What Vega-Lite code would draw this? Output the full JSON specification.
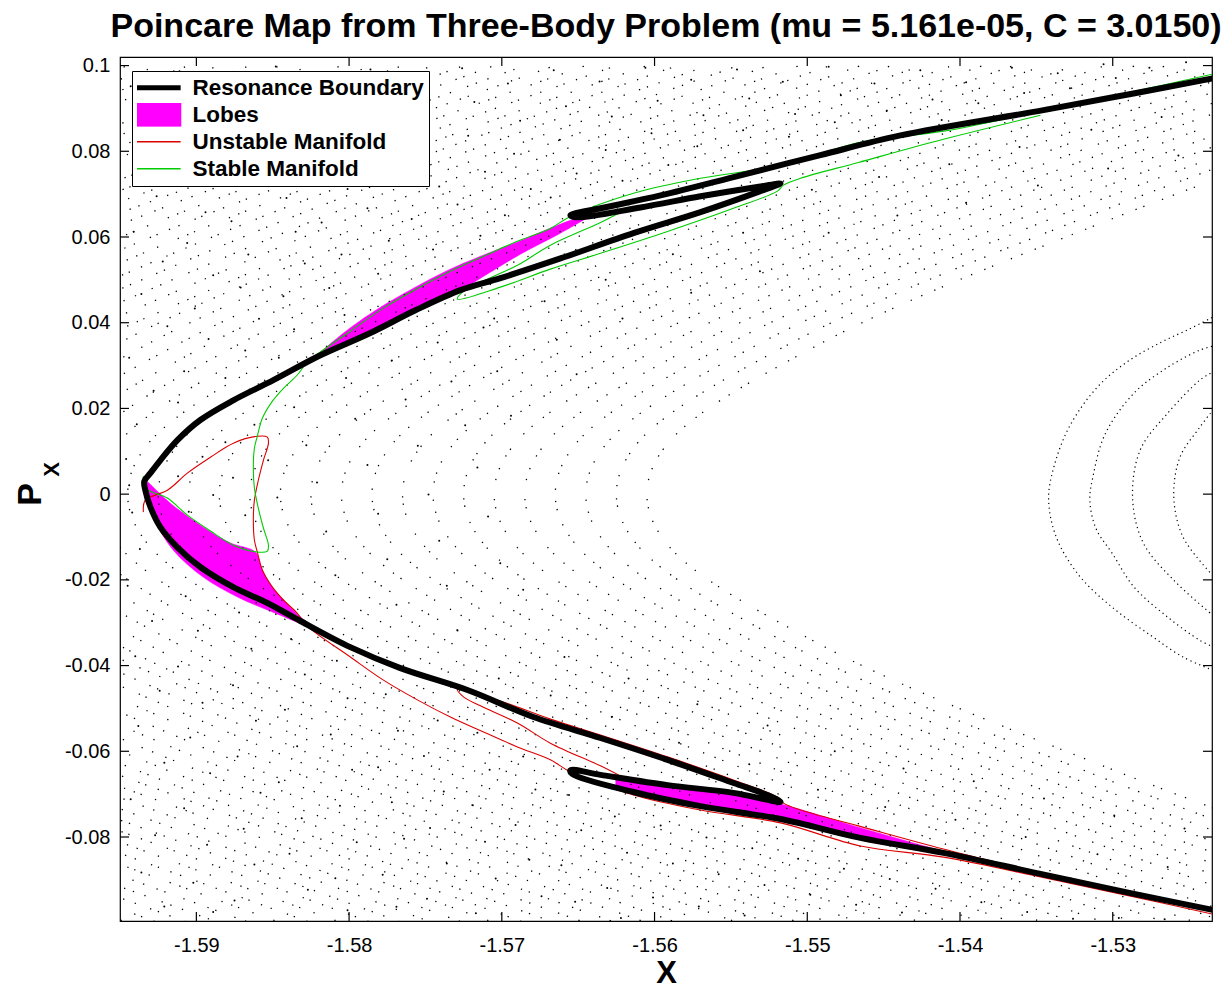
{
"$schema": "https://vega.github.io/schema/vega-lite/v6.json",
"width": 1092, "height": 864,
"autosize": "none",
"padding": {"left": 120, "top": 57, "right": 10, "bottom": 69},
"background": "white",
"title": {"text": "Poincare Map from Three-Body Problem (mu = 5.161e-05, C = 3.0150)", "font": "Liberation Sans", "fontSize": 34, "fontWeight": "bold", "color": "black", "anchor": "middle", "offset": 12},
"config": {"view": {"stroke": "black", "strokeWidth": 1.2},
  "axis": {"domain": false, "grid": false, "ticks": false, "labelFont": "Liberation Sans", "labelFontSize": 20, "labelColor": "black", "titleFont": "Liberation Sans", "titleColor": "black", "titleFontWeight": "bold"}},
"datasets": {
"xticks": [{"v":-1.59},{"v":-1.58},{"v":-1.57},{"v":-1.56},{"v":-1.55},{"v":-1.54},{"v":-1.53}],
"yticks": [{"v":-0.08},{"v":-0.06},{"v":-0.04},{"v":-0.02},{"v":0},{"v":0.02},{"v":0.04},{"v":0.06},{"v":0.08},{"v":0.1}],
"boundary": [
{"x":-1.52346,"y":0.0970},{"x":-1.52864,"y":0.0935},{"x":-1.53453,"y":0.0896},{"x":-1.54390,"y":0.0837},{"x":-1.54914,"y":0.0791},{"x":-1.55437,"y":0.0744},{"x":-1.55961,"y":0.0697},{"x":-1.56354,"y":0.0667},{"x":-1.56551,"y":0.0651},{"x":-1.56518,"y":0.0646},{"x":-1.56092,"y":0.0669},{"x":-1.55699,"y":0.0695},{"x":-1.55307,"y":0.0718},{"x":-1.55175,"y":0.0725},{"x":-1.55307,"y":0.0707},{"x":-1.55699,"y":0.0658},{"x":-1.56138,"y":0.0609},{"x":-1.56616,"y":0.0550},{"x":-1.57009,"y":0.0504},{"x":-1.57271,"y":0.0476},{"x":-1.57566,"y":0.0429},{"x":-1.57861,"y":0.0376},{"x":-1.58188,"y":0.0324},{"x":-1.58496,"y":0.0266},{"x":-1.58758,"y":0.0219},{"x":-1.58974,"y":0.0173},{"x":-1.59124,"y":0.0126},{"x":-1.59236,"y":0.0079},{"x":-1.59301,"y":0.0049},{"x":-1.59341,"y":0.0030},{"x":-1.59334,"y":0.0009},{"x":-1.59301,"y":-0.0030},{"x":-1.59236,"y":-0.0077},{"x":-1.59124,"y":-0.0124},{"x":-1.58974,"y":-0.0170},{"x":-1.58758,"y":-0.0217},{"x":-1.58535,"y":-0.0254},{"x":-1.58319,"y":-0.0296},{"x":-1.57992,"y":-0.0357},{"x":-1.57664,"y":-0.0406},{"x":-1.57225,"y":-0.0457},{"x":-1.56793,"y":-0.0520},{"x":-1.56354,"y":-0.0569},{"x":-1.55915,"y":-0.0620},{"x":-1.55483,"y":-0.0674},{"x":-1.55261,"y":-0.0702},{"x":-1.55175,"y":-0.0718},{"x":-1.55483,"y":-0.0697},{"x":-1.55915,"y":-0.0679},{"x":-1.56354,"y":-0.0655},{"x":-1.56551,"y":-0.0644},{"x":-1.56538,"y":-0.0653},{"x":-1.56138,"y":-0.0695},{"x":-1.55699,"y":-0.0728},{"x":-1.55175,"y":-0.0758},{"x":-1.54652,"y":-0.0802},{"x":-1.54108,"y":-0.0837},{"x":-1.53473,"y":-0.0886},{"x":-1.52883,"y":-0.0931},{"x":-1.52346,"y":-0.0970}
],
"lobes": [
{"lobe":"A","x":-1.58188,"y":0.0331},{"lobe":"A","x":-1.58011,"y":0.0383},{"lobe":"A","x":-1.57795,"y":0.0436},{"lobe":"A","x":-1.57566,"y":0.0483},{"lobe":"A","x":-1.57356,"y":0.0522},{"lobe":"A","x":-1.57140,"y":0.0555},{"lobe":"A","x":-1.56924,"y":0.0585},{"lobe":"A","x":-1.56714,"y":0.0616},{"lobe":"A","x":-1.56551,"y":0.0639},{"lobe":"A","x":-1.56387,"y":0.0658},{"lobe":"A","x":-1.56616,"y":0.0609},{"lobe":"A","x":-1.56878,"y":0.0560},{"lobe":"A","x":-1.57075,"y":0.0518},{"lobe":"A","x":-1.57271,"y":0.0476},{"lobe":"A","x":-1.57468,"y":0.0445},{"lobe":"A","x":-1.57664,"y":0.0415},{"lobe":"A","x":-1.57861,"y":0.0373},{"lobe":"A","x":-1.58024,"y":0.0348},
{"lobe":"B","x":-1.59321,"y":0.0030},{"lobe":"B","x":-1.59170,"y":-0.0021},{"lobe":"B","x":-1.58954,"y":-0.0077},{"lobe":"B","x":-1.58777,"y":-0.0114},{"lobe":"B","x":-1.58614,"y":-0.0135},{"lobe":"B","x":-1.58568,"y":-0.0177},{"lobe":"B","x":-1.58502,"y":-0.0217},{"lobe":"B","x":-1.58430,"y":-0.0247},{"lobe":"B","x":-1.58339,"y":-0.0280},{"lobe":"B","x":-1.58253,"y":-0.0308},{"lobe":"B","x":-1.58515,"y":-0.0273},{"lobe":"B","x":-1.58731,"y":-0.0240},{"lobe":"B","x":-1.58954,"y":-0.0194},{"lobe":"B","x":-1.59151,"y":-0.0131},{"lobe":"B","x":-1.59282,"y":-0.0054},{"lobe":"B","x":-1.59334,"y":0.0009},
{"lobe":"C","x":-1.56256,"y":-0.0665},{"lobe":"C","x":-1.55915,"y":-0.0681},{"lobe":"C","x":-1.55483,"y":-0.0700},{"lobe":"C","x":-1.55175,"y":-0.0723},{"lobe":"C","x":-1.54665,"y":-0.0777},{"lobe":"C","x":-1.54108,"y":-0.0833},{"lobe":"C","x":-1.53473,"y":-0.0889},{"lobe":"C","x":-1.54108,"y":-0.0842},{"lobe":"C","x":-1.54652,"y":-0.0807},{"lobe":"C","x":-1.55175,"y":-0.0763},{"lobe":"C","x":-1.55699,"y":-0.0732},{"lobe":"C","x":-1.56138,"y":-0.0700},{"lobe":"C","x":-1.56256,"y":-0.0683}
],
"unstable": [
{"seg":"a","x":-1.59347,"y":-0.0042},{"seg":"a","x":-1.59334,"y":-0.0014},{"seg":"a","x":-1.59190,"y":0.0009},{"seg":"a","x":-1.59059,"y":0.0049},{"seg":"a","x":-1.58908,"y":0.0086},{"seg":"a","x":-1.58758,"y":0.0119},{"seg":"a","x":-1.58601,"y":0.0135},{"seg":"a","x":-1.58535,"y":0.0133},{"seg":"a","x":-1.58528,"y":0.0119},{"seg":"a","x":-1.58561,"y":0.0079},{"seg":"a","x":-1.58594,"y":0.0033},{"seg":"a","x":-1.58620,"y":-0.0014},{"seg":"a","x":-1.58627,"y":-0.0061},{"seg":"a","x":-1.58620,"y":-0.0107},{"seg":"a","x":-1.58601,"y":-0.0135},{"seg":"a","x":-1.58568,"y":-0.0177},{"seg":"a","x":-1.58502,"y":-0.0217},{"seg":"a","x":-1.58430,"y":-0.0247},{"seg":"a","x":-1.58339,"y":-0.0278},{"seg":"a","x":-1.58273,"y":-0.0308},{"seg":"a","x":-1.57992,"y":-0.0380},{"seg":"a","x":-1.57775,"y":-0.0434},{"seg":"a","x":-1.57553,"y":-0.0480},{"seg":"a","x":-1.57337,"y":-0.0520},{"seg":"a","x":-1.57120,"y":-0.0555},{"seg":"a","x":-1.56898,"y":-0.0590},{"seg":"a","x":-1.56682,"y":-0.0620},{"seg":"a","x":-1.56551,"y":-0.0648},{"seg":"a","x":-1.56138,"y":-0.0702},{"seg":"a","x":-1.55699,"y":-0.0737},{"seg":"a","x":-1.55175,"y":-0.0767},{"seg":"a","x":-1.54652,"y":-0.0821},{"seg":"a","x":-1.54108,"y":-0.0847},{"seg":"a","x":-1.53473,"y":-0.0893},{"seg":"a","x":-1.52883,"y":-0.0938},{"seg":"a","x":-1.52346,"y":-0.0980},
{"seg":"b","x":-1.56223,"y":-0.0658},{"seg":"b","x":-1.56354,"y":-0.0634},{"seg":"b","x":-1.56682,"y":-0.0581},{"seg":"b","x":-1.56898,"y":-0.0534},{"seg":"b","x":-1.57140,"y":-0.0494},{"seg":"b","x":-1.57251,"y":-0.0473},{"seg":"b","x":-1.57291,"y":-0.0455},{"seg":"b","x":-1.57009,"y":-0.0483},{"seg":"b","x":-1.56682,"y":-0.0525},{"seg":"b","x":-1.56354,"y":-0.0562},{"seg":"b","x":-1.55915,"y":-0.0613},{"seg":"b","x":-1.55483,"y":-0.0667},{"seg":"b","x":-1.55195,"y":-0.0707},{"seg":"b","x":-1.55156,"y":-0.0721},{"seg":"b","x":-1.55044,"y":-0.0737},{"seg":"b","x":-1.54665,"y":-0.0774},{"seg":"b","x":-1.54108,"y":-0.0828},{"seg":"b","x":-1.53473,"y":-0.0884}
],
"stable": [
{"seg":"a","x":-1.59347,"y":0.0042},{"seg":"a","x":-1.59334,"y":0.0014},{"seg":"a","x":-1.59190,"y":-0.0009},{"seg":"a","x":-1.59059,"y":-0.0049},{"seg":"a","x":-1.58908,"y":-0.0086},{"seg":"a","x":-1.58758,"y":-0.0119},{"seg":"a","x":-1.58601,"y":-0.0135},{"seg":"a","x":-1.58535,"y":-0.0133},{"seg":"a","x":-1.58528,"y":-0.0119},{"seg":"a","x":-1.58561,"y":-0.0079},{"seg":"a","x":-1.58594,"y":-0.0033},{"seg":"a","x":-1.58620,"y":0.0014},{"seg":"a","x":-1.58627,"y":0.0061},{"seg":"a","x":-1.58620,"y":0.0107},{"seg":"a","x":-1.58601,"y":0.0135},{"seg":"a","x":-1.58568,"y":0.0177},{"seg":"a","x":-1.58502,"y":0.0217},{"seg":"a","x":-1.58430,"y":0.0247},{"seg":"a","x":-1.58339,"y":0.0278},{"seg":"a","x":-1.58273,"y":0.0308},{"seg":"a","x":-1.57992,"y":0.0380},{"seg":"a","x":-1.57775,"y":0.0434},{"seg":"a","x":-1.57553,"y":0.0480},{"seg":"a","x":-1.57337,"y":0.0520},{"seg":"a","x":-1.57120,"y":0.0555},{"seg":"a","x":-1.56898,"y":0.0590},{"seg":"a","x":-1.56682,"y":0.0620},{"seg":"a","x":-1.56551,"y":0.0648},{"seg":"a","x":-1.56138,"y":0.0702},{"seg":"a","x":-1.55699,"y":0.0737},{"seg":"a","x":-1.55175,"y":0.0767},{"seg":"a","x":-1.54652,"y":0.0821},{"seg":"a","x":-1.54108,"y":0.0847},{"seg":"a","x":-1.53473,"y":0.0893},{"seg":"a","x":-1.52883,"y":0.0938},{"seg":"a","x":-1.52346,"y":0.0980},
{"seg":"b","x":-1.56223,"y":0.0658},{"seg":"b","x":-1.56354,"y":0.0634},{"seg":"b","x":-1.56682,"y":0.0581},{"seg":"b","x":-1.56898,"y":0.0534},{"seg":"b","x":-1.57140,"y":0.0494},{"seg":"b","x":-1.57251,"y":0.0473},{"seg":"b","x":-1.57291,"y":0.0455},{"seg":"b","x":-1.57009,"y":0.0483},{"seg":"b","x":-1.56682,"y":0.0525},{"seg":"b","x":-1.56354,"y":0.0562},{"seg":"b","x":-1.55915,"y":0.0613},{"seg":"b","x":-1.55483,"y":0.0667},{"seg":"b","x":-1.55195,"y":0.0707},{"seg":"b","x":-1.55156,"y":0.0721},{"seg":"b","x":-1.55044,"y":0.0737},{"seg":"b","x":-1.54665,"y":0.0774},{"seg":"b","x":-1.54108,"y":0.0828},{"seg":"b","x":-1.53473,"y":0.0884}
],
"tori": [
{"t":"1","x":-1.5235,"y":0.0412},{"t":"1","x":-1.5250,"y":0.0385},{"t":"1","x":-1.5268,"y":0.0355},{"t":"1","x":-1.5290,"y":0.0310},{"t":"1","x":-1.5310,"y":0.0250},{"t":"1","x":-1.5328,"y":0.0160},{"t":"1","x":-1.5338,"y":0.0070},{"t":"1","x":-1.5342,"y":-0.0010},{"t":"1","x":-1.5337,"y":-0.0100},{"t":"1","x":-1.5322,"y":-0.0190},{"t":"1","x":-1.5300,"y":-0.0265},{"t":"1","x":-1.5275,"y":-0.0330},{"t":"1","x":-1.5254,"y":-0.0380},{"t":"1","x":-1.5235,"y":-0.0410},
{"t":"2","x":-1.5235,"y":0.0345},{"t":"2","x":-1.5243,"y":0.0336},{"t":"2","x":-1.5264,"y":0.0296},{"t":"2","x":-1.5286,"y":0.0236},{"t":"2","x":-1.5305,"y":0.0140},{"t":"2","x":-1.5313,"y":0.0040},{"t":"2","x":-1.5315,"y":-0.0014},{"t":"2","x":-1.5311,"y":-0.0080},{"t":"2","x":-1.5300,"y":-0.0140},{"t":"2","x":-1.5286,"y":-0.0217},{"t":"2","x":-1.5264,"y":-0.0287},{"t":"2","x":-1.5243,"y":-0.0341},{"t":"2","x":-1.5235,"y":-0.0355},
{"t":"3","x":-1.5236,"y":0.0282},{"t":"3","x":-1.5243,"y":0.0266},{"t":"3","x":-1.5264,"y":0.0189},{"t":"3","x":-1.5282,"y":0.0103},{"t":"3","x":-1.5287,"y":-0.0009},{"t":"3","x":-1.5280,"y":-0.0114},{"t":"3","x":-1.5260,"y":-0.0201},{"t":"3","x":-1.5236,"y":-0.0278},
{"t":"4","x":-1.5236,"y":0.0189},{"t":"4","x":-1.5243,"y":0.0156},{"t":"4","x":-1.5256,"y":0.0086},{"t":"4","x":-1.5260,"y":-0.0007},{"t":"4","x":-1.5254,"y":-0.0100},{"t":"4","x":-1.5236,"y":-0.0184}
],
"streaks": [
{"a":"0","x":-1.5025,"y":-0.1},{"a":"0","x":-1.5295,"y":-0.065},{"a":"0","x":-1.5492,"y":-0.035},{"a":"0","x":-1.5591,"y":-0.012},{"a":"0","x":-1.5605,"y":0},{"a":"0","x":-1.5591,"y":0.012},{"a":"0","x":-1.5492,"y":0.035},{"a":"0","x":-1.5295,"y":0.065},{"a":"0","x":-1.5025,"y":0.1},
{"a":"1","x":-1.5045,"y":-0.1},{"a":"1","x":-1.5315,"y":-0.065},{"a":"1","x":-1.5512,"y":-0.035},{"a":"1","x":-1.5611,"y":-0.012},{"a":"1","x":-1.5625,"y":0},{"a":"1","x":-1.5611,"y":0.012},{"a":"1","x":-1.5512,"y":0.035},{"a":"1","x":-1.5315,"y":0.065},{"a":"1","x":-1.5045,"y":0.1},
{"a":"2","x":-1.5065,"y":-0.1},{"a":"2","x":-1.5335,"y":-0.065},{"a":"2","x":-1.5532,"y":-0.035},{"a":"2","x":-1.5631,"y":-0.012},{"a":"2","x":-1.5645,"y":0},{"a":"2","x":-1.5631,"y":0.012},{"a":"2","x":-1.5532,"y":0.035},{"a":"2","x":-1.5335,"y":0.065},{"a":"2","x":-1.5065,"y":0.1},
{"a":"3","x":-1.5085,"y":-0.1},{"a":"3","x":-1.5355,"y":-0.065},{"a":"3","x":-1.5552,"y":-0.035},{"a":"3","x":-1.5651,"y":-0.012},{"a":"3","x":-1.5665,"y":0},{"a":"3","x":-1.5651,"y":0.012},{"a":"3","x":-1.5552,"y":0.035},{"a":"3","x":-1.5355,"y":0.065},{"a":"3","x":-1.5085,"y":0.1},
{"a":"4","x":-1.5105,"y":-0.1},{"a":"4","x":-1.5375,"y":-0.065},{"a":"4","x":-1.5572,"y":-0.035},{"a":"4","x":-1.5671,"y":-0.012},{"a":"4","x":-1.5685,"y":0},{"a":"4","x":-1.5671,"y":0.012},{"a":"4","x":-1.5572,"y":0.035},{"a":"4","x":-1.5375,"y":0.065},{"a":"4","x":-1.5105,"y":0.1},
{"a":"5","x":-1.5125,"y":-0.1},{"a":"5","x":-1.5395,"y":-0.065},{"a":"5","x":-1.5592,"y":-0.035},{"a":"5","x":-1.5691,"y":-0.012},{"a":"5","x":-1.5705,"y":0},{"a":"5","x":-1.5691,"y":0.012},{"a":"5","x":-1.5592,"y":0.035},{"a":"5","x":-1.5395,"y":0.065},{"a":"5","x":-1.5125,"y":0.1},
{"a":"6","x":-1.5145,"y":-0.1},{"a":"6","x":-1.5415,"y":-0.065},{"a":"6","x":-1.5612,"y":-0.035},{"a":"6","x":-1.5711,"y":-0.012},{"a":"6","x":-1.5725,"y":0},{"a":"6","x":-1.5711,"y":0.012},{"a":"6","x":-1.5612,"y":0.035},{"a":"6","x":-1.5415,"y":0.065},{"a":"6","x":-1.5145,"y":0.1},
{"a":"7","x":-1.5165,"y":-0.1},{"a":"7","x":-1.5435,"y":-0.065},{"a":"7","x":-1.5632,"y":-0.035},{"a":"7","x":-1.5731,"y":-0.012},{"a":"7","x":-1.5745,"y":0},{"a":"7","x":-1.5731,"y":0.012},{"a":"7","x":-1.5632,"y":0.035},{"a":"7","x":-1.5435,"y":0.065},{"a":"7","x":-1.5165,"y":0.1},
{"a":"8","x":-1.5185,"y":-0.1},{"a":"8","x":-1.5455,"y":-0.065},{"a":"8","x":-1.5652,"y":-0.035},{"a":"8","x":-1.5751,"y":-0.012},{"a":"8","x":-1.5765,"y":0},{"a":"8","x":-1.5751,"y":0.012},{"a":"8","x":-1.5652,"y":0.035},{"a":"8","x":-1.5455,"y":0.065},{"a":"8","x":-1.5185,"y":0.1},
{"a":"9","x":-1.5205,"y":-0.1},{"a":"9","x":-1.5475,"y":-0.065},{"a":"9","x":-1.5672,"y":-0.035},{"a":"9","x":-1.5771,"y":-0.012},{"a":"9","x":-1.5785,"y":0},{"a":"9","x":-1.5771,"y":0.012},{"a":"9","x":-1.5672,"y":0.035},{"a":"9","x":-1.5475,"y":0.065},{"a":"9","x":-1.5205,"y":0.1},
{"a":"10","x":-1.5225,"y":-0.1},{"a":"10","x":-1.5495,"y":-0.065},{"a":"10","x":-1.5692,"y":-0.035},{"a":"10","x":-1.5791,"y":-0.012},{"a":"10","x":-1.5805,"y":0},{"a":"10","x":-1.5791,"y":0.012},{"a":"10","x":-1.5692,"y":0.035},{"a":"10","x":-1.5495,"y":0.065},{"a":"10","x":-1.5225,"y":0.1},
{"a":"11","x":-1.5245,"y":-0.1},{"a":"11","x":-1.5515,"y":-0.065},{"a":"11","x":-1.5712,"y":-0.035},{"a":"11","x":-1.5811,"y":-0.012},{"a":"11","x":-1.5825,"y":0},{"a":"11","x":-1.5811,"y":0.012},{"a":"11","x":-1.5712,"y":0.035},{"a":"11","x":-1.5515,"y":0.065},{"a":"11","x":-1.5245,"y":0.1},
{"a":"12","x":-1.5265,"y":-0.1},{"a":"12","x":-1.5535,"y":-0.065},{"a":"12","x":-1.5732,"y":-0.035},{"a":"12","x":-1.5831,"y":-0.012},{"a":"12","x":-1.5845,"y":0},{"a":"12","x":-1.5831,"y":0.012},{"a":"12","x":-1.5732,"y":0.035},{"a":"12","x":-1.5535,"y":0.065},{"a":"12","x":-1.5265,"y":0.1},
{"a":"13","x":-1.5285,"y":-0.1},{"a":"13","x":-1.5555,"y":-0.065},{"a":"13","x":-1.5752,"y":-0.035},{"a":"13","x":-1.5851,"y":-0.012},{"a":"13","x":-1.5865,"y":0},{"a":"13","x":-1.5851,"y":0.012},{"a":"13","x":-1.5752,"y":0.035},{"a":"13","x":-1.5555,"y":0.065},{"a":"13","x":-1.5285,"y":0.1},
{"a":"14","x":-1.5305,"y":-0.1},{"a":"14","x":-1.5575,"y":-0.065},{"a":"14","x":-1.5772,"y":-0.035},{"a":"14","x":-1.5871,"y":-0.012},{"a":"14","x":-1.5885,"y":0},{"a":"14","x":-1.5871,"y":0.012},{"a":"14","x":-1.5772,"y":0.035},{"a":"14","x":-1.5575,"y":0.065},{"a":"14","x":-1.5305,"y":0.1},
{"a":"15","x":-1.5325,"y":-0.1},{"a":"15","x":-1.5595,"y":-0.065},{"a":"15","x":-1.5792,"y":-0.035},{"a":"15","x":-1.5891,"y":-0.012},{"a":"15","x":-1.5905,"y":0},{"a":"15","x":-1.5891,"y":0.012},{"a":"15","x":-1.5792,"y":0.035},{"a":"15","x":-1.5595,"y":0.065},{"a":"15","x":-1.5325,"y":0.1},
{"a":"16","x":-1.5345,"y":-0.1},{"a":"16","x":-1.5615,"y":-0.065},{"a":"16","x":-1.5812,"y":-0.035},{"a":"16","x":-1.5911,"y":-0.012},{"a":"16","x":-1.5925,"y":0},{"a":"16","x":-1.5911,"y":0.012},{"a":"16","x":-1.5812,"y":0.035},{"a":"16","x":-1.5615,"y":0.065},{"a":"16","x":-1.5345,"y":0.1},
{"a":"17","x":-1.5365,"y":-0.1},{"a":"17","x":-1.5635,"y":-0.065},{"a":"17","x":-1.5832,"y":-0.035},{"a":"17","x":-1.5931,"y":-0.012},{"a":"17","x":-1.5945,"y":0},{"a":"17","x":-1.5931,"y":0.012},{"a":"17","x":-1.5832,"y":0.035},{"a":"17","x":-1.5635,"y":0.065},{"a":"17","x":-1.5365,"y":0.1},
{"a":"18","x":-1.5385,"y":-0.1},{"a":"18","x":-1.5655,"y":-0.065},{"a":"18","x":-1.5852,"y":-0.035},{"a":"18","x":-1.5951,"y":-0.012},{"a":"18","x":-1.5965,"y":0},{"a":"18","x":-1.5951,"y":0.012},{"a":"18","x":-1.5852,"y":0.035},{"a":"18","x":-1.5655,"y":0.065},{"a":"18","x":-1.5385,"y":0.1},
{"a":"19","x":-1.5405,"y":-0.1},{"a":"19","x":-1.5675,"y":-0.065},{"a":"19","x":-1.5872,"y":-0.035},{"a":"19","x":-1.5971,"y":-0.012},{"a":"19","x":-1.5985,"y":0},{"a":"19","x":-1.5971,"y":0.012},{"a":"19","x":-1.5872,"y":0.035},{"a":"19","x":-1.5675,"y":0.065},{"a":"19","x":-1.5405,"y":0.1},
{"a":"20","x":-1.5425,"y":-0.1},{"a":"20","x":-1.5695,"y":-0.065},{"a":"20","x":-1.5892,"y":-0.035},{"a":"20","x":-1.5991,"y":-0.012},{"a":"20","x":-1.6005,"y":0},{"a":"20","x":-1.5991,"y":0.012},{"a":"20","x":-1.5892,"y":0.035},{"a":"20","x":-1.5695,"y":0.065},{"a":"20","x":-1.5425,"y":0.1},
{"a":"21","x":-1.5445,"y":-0.1},{"a":"21","x":-1.5715,"y":-0.065},{"a":"21","x":-1.5912,"y":-0.035},{"a":"21","x":-1.6011,"y":-0.012},{"a":"21","x":-1.6025,"y":0},{"a":"21","x":-1.6011,"y":0.012},{"a":"21","x":-1.5912,"y":0.035},{"a":"21","x":-1.5715,"y":0.065},{"a":"21","x":-1.5445,"y":0.1},
{"a":"22","x":-1.5465,"y":-0.1},{"a":"22","x":-1.5735,"y":-0.065},{"a":"22","x":-1.5932,"y":-0.035},{"a":"22","x":-1.6031,"y":-0.012},{"a":"22","x":-1.6045,"y":0},{"a":"22","x":-1.6031,"y":0.012},{"a":"22","x":-1.5932,"y":0.035},{"a":"22","x":-1.5735,"y":0.065},{"a":"22","x":-1.5465,"y":0.1},
{"a":"23","x":-1.5485,"y":-0.1},{"a":"23","x":-1.5755,"y":-0.065},{"a":"23","x":-1.5952,"y":-0.035},{"a":"23","x":-1.6051,"y":-0.012},{"a":"23","x":-1.6065,"y":0},{"a":"23","x":-1.6051,"y":0.012},{"a":"23","x":-1.5952,"y":0.035},{"a":"23","x":-1.5755,"y":0.065},{"a":"23","x":-1.5485,"y":0.1},
{"a":"24u","x":-1.5972,"y":0.035},{"a":"24u","x":-1.5775,"y":0.065},{"a":"24u","x":-1.5505,"y":0.1},{"a":"24l","x":-1.5972,"y":-0.035},{"a":"24l","x":-1.5775,"y":-0.065},{"a":"24l","x":-1.5505,"y":-0.1},
{"a":"25u","x":-1.5992,"y":0.035},{"a":"25u","x":-1.5795,"y":0.065},{"a":"25u","x":-1.5525,"y":0.1},{"a":"25l","x":-1.5992,"y":-0.035},{"a":"25l","x":-1.5795,"y":-0.065},{"a":"25l","x":-1.5525,"y":-0.1},
{"a":"26u","x":-1.6012,"y":0.035},{"a":"26u","x":-1.5815,"y":0.065},{"a":"26u","x":-1.5545,"y":0.1},{"a":"26l","x":-1.6012,"y":-0.035},{"a":"26l","x":-1.5815,"y":-0.065},{"a":"26l","x":-1.5545,"y":-0.1},
{"a":"27u","x":-1.6032,"y":0.035},{"a":"27u","x":-1.5835,"y":0.065},{"a":"27u","x":-1.5565,"y":0.1},{"a":"27l","x":-1.6032,"y":-0.035},{"a":"27l","x":-1.5835,"y":-0.065},{"a":"27l","x":-1.5565,"y":-0.1},
{"a":"28u","x":-1.6052,"y":0.035},{"a":"28u","x":-1.5855,"y":0.065},{"a":"28u","x":-1.5585,"y":0.1},{"a":"28l","x":-1.6052,"y":-0.035},{"a":"28l","x":-1.5855,"y":-0.065},{"a":"28l","x":-1.5585,"y":-0.1},
{"a":"29u","x":-1.6072,"y":0.035},{"a":"29u","x":-1.5875,"y":0.065},{"a":"29u","x":-1.5605,"y":0.1},{"a":"29l","x":-1.6072,"y":-0.035},{"a":"29l","x":-1.5875,"y":-0.065},{"a":"29l","x":-1.5605,"y":-0.1},
{"a":"30u","x":-1.6092,"y":0.035},{"a":"30u","x":-1.5895,"y":0.065},{"a":"30u","x":-1.5625,"y":0.1},{"a":"30l","x":-1.6092,"y":-0.035},{"a":"30l","x":-1.5895,"y":-0.065},{"a":"30l","x":-1.5625,"y":-0.1},
{"a":"31u","x":-1.6112,"y":0.035},{"a":"31u","x":-1.5915,"y":0.065},{"a":"31u","x":-1.5645,"y":0.1},{"a":"31l","x":-1.6112,"y":-0.035},{"a":"31l","x":-1.5915,"y":-0.065},{"a":"31l","x":-1.5645,"y":-0.1},
{"a":"32u","x":-1.6132,"y":0.035},{"a":"32u","x":-1.5935,"y":0.065},{"a":"32u","x":-1.5665,"y":0.1},{"a":"32l","x":-1.6132,"y":-0.035},{"a":"32l","x":-1.5935,"y":-0.065},{"a":"32l","x":-1.5665,"y":-0.1},
{"a":"33u","x":-1.5955,"y":0.065},{"a":"33u","x":-1.5685,"y":0.1},{"a":"33l","x":-1.5955,"y":-0.065},{"a":"33l","x":-1.5685,"y":-0.1},
{"a":"34u","x":-1.5975,"y":0.065},{"a":"34u","x":-1.5705,"y":0.1},{"a":"34l","x":-1.5975,"y":-0.065},{"a":"34l","x":-1.5705,"y":-0.1},
{"a":"35u","x":-1.5995,"y":0.065},{"a":"35u","x":-1.5725,"y":0.1},{"a":"35l","x":-1.5995,"y":-0.065},{"a":"35l","x":-1.5725,"y":-0.1},
{"a":"36u","x":-1.6015,"y":0.065},{"a":"36u","x":-1.5745,"y":0.1},{"a":"36l","x":-1.6015,"y":-0.065},{"a":"36l","x":-1.5745,"y":-0.1},
{"a":"37u","x":-1.6035,"y":0.065},{"a":"37u","x":-1.5765,"y":0.1},{"a":"37l","x":-1.6035,"y":-0.065},{"a":"37l","x":-1.5765,"y":-0.1},
{"a":"38u","x":-1.6055,"y":0.065},{"a":"38u","x":-1.5785,"y":0.1},{"a":"38l","x":-1.6055,"y":-0.065},{"a":"38l","x":-1.5785,"y":-0.1},
{"a":"39u","x":-1.6075,"y":0.065},{"a":"39u","x":-1.5805,"y":0.1},{"a":"39l","x":-1.6075,"y":-0.065},{"a":"39l","x":-1.5805,"y":-0.1},
{"a":"40u","x":-1.6095,"y":0.065},{"a":"40u","x":-1.5825,"y":0.1},{"a":"40l","x":-1.6095,"y":-0.065},{"a":"40l","x":-1.5825,"y":-0.1},
{"a":"41u","x":-1.6115,"y":0.065},{"a":"41u","x":-1.5845,"y":0.1},{"a":"41l","x":-1.6115,"y":-0.065},{"a":"41l","x":-1.5845,"y":-0.1},
{"a":"42u","x":-1.6135,"y":0.065},{"a":"42u","x":-1.5865,"y":0.1},{"a":"42l","x":-1.6135,"y":-0.065},{"a":"42l","x":-1.5865,"y":-0.1},
{"a":"43u","x":-1.6155,"y":0.065},{"a":"43u","x":-1.5885,"y":0.1},{"a":"43l","x":-1.6155,"y":-0.065},{"a":"43l","x":-1.5885,"y":-0.1},
{"a":"44u","x":-1.6175,"y":0.065},{"a":"44u","x":-1.5905,"y":0.1},{"a":"44l","x":-1.6175,"y":-0.065},{"a":"44l","x":-1.5905,"y":-0.1},
{"a":"45u","x":-1.6195,"y":0.065},{"a":"45u","x":-1.5925,"y":0.1},{"a":"45l","x":-1.6195,"y":-0.065},{"a":"45l","x":-1.5925,"y":-0.1},
{"a":"46u","x":-1.6215,"y":0.065},{"a":"46u","x":-1.5945,"y":0.1},{"a":"46l","x":-1.6215,"y":-0.065},{"a":"46l","x":-1.5945,"y":-0.1}
],
"sea": [
{"x":-1.5943,"y":0.0952},{"x":-1.5931,"y":0.0874},{"x":-1.5938,"y":0.0781},{"x":-1.5926,"y":0.0695},{"x":-1.5941,"y":0.0612},{"x":-1.5922,"y":0.0543},{"x":-1.5936,"y":0.0467},{"x":-1.5919,"y":0.0392},{"x":-1.5944,"y":0.0318},{"x":-1.5928,"y":0.0241},{"x":-1.5939,"y":0.0163},{"x":-1.5946,"y":0.0082},{"x":-1.5944,"y":0.0021},
{"x":-1.5911,"y":0.0987},{"x":-1.5903,"y":0.0912},{"x":-1.5898,"y":0.0829},{"x":-1.5909,"y":0.0741},{"x":-1.5894,"y":0.0658},{"x":-1.5906,"y":0.0586},{"x":-1.5889,"y":0.0511},{"x":-1.5901,"y":0.0433},{"x":-1.5892,"y":0.0362},{"x":-1.5908,"y":0.0287},{"x":-1.5912,"y":0.0214},
{"x":-1.5878,"y":0.0963},{"x":-1.5869,"y":0.0886},{"x":-1.5874,"y":0.0803},{"x":-1.5861,"y":0.0721},{"x":-1.5877,"y":0.0637},{"x":-1.5866,"y":0.0559},{"x":-1.5871,"y":0.0482},{"x":-1.5859,"y":0.0409},{"x":-1.5868,"y":0.0335},{"x":-1.5881,"y":0.0271},
{"x":-1.5848,"y":0.0998},{"x":-1.5839,"y":0.0921},{"x":-1.5845,"y":0.0843},{"x":-1.5832,"y":0.0768},{"x":-1.5841,"y":0.0691},{"x":-1.5835,"y":0.0612},{"x":-1.5829,"y":0.0538},{"x":-1.5843,"y":0.0462},{"x":-1.5836,"y":0.0385},{"x":-1.5846,"y":0.0318},
{"x":-1.5816,"y":0.0957},{"x":-1.5807,"y":0.0872},{"x":-1.5811,"y":0.0789},{"x":-1.5801,"y":0.0712},{"x":-1.5818,"y":0.0634},{"x":-1.5805,"y":0.0559},{"x":-1.5813,"y":0.0481},{"x":-1.5803,"y":0.0418},
{"x":-1.5786,"y":0.0991},{"x":-1.5778,"y":0.0908},{"x":-1.5782,"y":0.0826},{"x":-1.5771,"y":0.0745},{"x":-1.5788,"y":0.0667},{"x":-1.5774,"y":0.0591},{"x":-1.5781,"y":0.0514},
{"x":-1.5756,"y":0.0962},{"x":-1.5748,"y":0.0879},{"x":-1.5752,"y":0.0801},{"x":-1.5741,"y":0.0718},{"x":-1.5759,"y":0.0642},{"x":-1.5745,"y":0.0571},
{"x":-1.5726,"y":0.0994},{"x":-1.5718,"y":0.0915},{"x":-1.5722,"y":0.0836},{"x":-1.5711,"y":0.0752},{"x":-1.5729,"y":0.0676},{"x":-1.5714,"y":0.0603},
{"x":-1.5696,"y":0.0958},{"x":-1.5688,"y":0.0871},{"x":-1.5692,"y":0.0794},{"x":-1.5681,"y":0.0712},{"x":-1.5698,"y":0.0651},
{"x":-1.5666,"y":0.0989},{"x":-1.5658,"y":0.0905},{"x":-1.5662,"y":0.0827},{"x":-1.5651,"y":0.0748},{"x":-1.5668,"y":0.0692},
{"x":-1.5636,"y":0.0963},{"x":-1.5628,"y":0.0881},{"x":-1.5632,"y":0.0803},{"x":-1.5621,"y":0.0731},
{"x":-1.5606,"y":0.0995},{"x":-1.5598,"y":0.0918},{"x":-1.5602,"y":0.0842},{"x":-1.5591,"y":0.0768},
{"x":-1.5576,"y":0.0967},{"x":-1.5568,"y":0.0884},{"x":-1.5572,"y":0.0812},
{"x":-1.5546,"y":0.0991},{"x":-1.5538,"y":0.0923},{"x":-1.5542,"y":0.0849},
{"x":-1.5516,"y":0.0962},{"x":-1.5508,"y":0.0887},{"x":-1.5512,"y":0.0834},
{"x":-1.5486,"y":0.0997},{"x":-1.5478,"y":0.0931},{"x":-1.5482,"y":0.0868},
{"x":-1.5456,"y":0.0958},{"x":-1.5448,"y":0.0894},{"x":-1.5426,"y":0.0989},{"x":-1.5418,"y":0.0921},{"x":-1.5412,"y":0.0873},
{"x":-1.5396,"y":0.0961},{"x":-1.5388,"y":0.0912},{"x":-1.5366,"y":0.0995},{"x":-1.5358,"y":0.0936},{"x":-1.5336,"y":0.0982},{"x":-1.5328,"y":0.0947},{"x":-1.5306,"y":0.1003},{"x":-1.5298,"y":0.0971},{"x":-1.5276,"y":0.0995},{"x":-1.5252,"y":0.1008},
{"x":-1.5942,"y":-0.0043},{"x":-1.5937,"y":-0.0128},{"x":-1.5945,"y":-0.0214},{"x":-1.5929,"y":-0.0296},{"x":-1.5940,"y":-0.0378},{"x":-1.5924,"y":-0.0459},{"x":-1.5938,"y":-0.0541},{"x":-1.5921,"y":-0.0627},{"x":-1.5943,"y":-0.0712},{"x":-1.5927,"y":-0.0796},{"x":-1.5936,"y":-0.0883},{"x":-1.5921,"y":-0.0962},
{"x":-1.5907,"y":-0.0238},{"x":-1.5899,"y":-0.0319},{"x":-1.5912,"y":-0.0402},{"x":-1.5896,"y":-0.0487},{"x":-1.5904,"y":-0.0568},{"x":-1.5891,"y":-0.0651},{"x":-1.5908,"y":-0.0733},{"x":-1.5893,"y":-0.0818},{"x":-1.5902,"y":-0.0907},{"x":-1.5889,"y":-0.0975},
{"x":-1.5872,"y":-0.0276},{"x":-1.5864,"y":-0.0361},{"x":-1.5876,"y":-0.0446},{"x":-1.5861,"y":-0.0529},{"x":-1.5873,"y":-0.0612},{"x":-1.5858,"y":-0.0697},{"x":-1.5869,"y":-0.0781},{"x":-1.5862,"y":-0.0864},{"x":-1.5875,"y":-0.0948},
{"x":-1.5838,"y":-0.0338},{"x":-1.5829,"y":-0.0421},{"x":-1.5842,"y":-0.0503},{"x":-1.5834,"y":-0.0588},{"x":-1.5846,"y":-0.0672},{"x":-1.5831,"y":-0.0756},{"x":-1.5839,"y":-0.0839},{"x":-1.5827,"y":-0.0923},
{"x":-1.5808,"y":-0.0389},{"x":-1.5801,"y":-0.0476},{"x":-1.5812,"y":-0.0561},{"x":-1.5798,"y":-0.0643},{"x":-1.5806,"y":-0.0727},{"x":-1.5795,"y":-0.0812},{"x":-1.5809,"y":-0.0896},{"x":-1.5801,"y":-0.0971},
{"x":-1.5776,"y":-0.0467},{"x":-1.5768,"y":-0.0552},{"x":-1.5781,"y":-0.0637},{"x":-1.5772,"y":-0.0719},{"x":-1.5764,"y":-0.0804},{"x":-1.5778,"y":-0.0888},{"x":-1.5769,"y":-0.0963},
{"x":-1.5742,"y":-0.0528},{"x":-1.5751,"y":-0.0611},{"x":-1.5738,"y":-0.0694},{"x":-1.5747,"y":-0.0779},{"x":-1.5736,"y":-0.0862},{"x":-1.5749,"y":-0.0944},
{"x":-1.5716,"y":-0.0557},{"x":-1.5708,"y":-0.0643},{"x":-1.5719,"y":-0.0726},{"x":-1.5711,"y":-0.0811},{"x":-1.5704,"y":-0.0897},{"x":-1.5717,"y":-0.0978},
{"x":-1.5686,"y":-0.0612},{"x":-1.5678,"y":-0.0689},{"x":-1.5691,"y":-0.0772},{"x":-1.5682,"y":-0.0853},{"x":-1.5674,"y":-0.0938},
{"x":-1.5656,"y":-0.0702},{"x":-1.5648,"y":-0.0784},{"x":-1.5661,"y":-0.0866},{"x":-1.5652,"y":-0.0951},
{"x":-1.5626,"y":-0.0752},{"x":-1.5618,"y":-0.0837},{"x":-1.5631,"y":-0.0919},{"x":-1.5622,"y":-0.0989},
{"x":-1.5596,"y":-0.0773},{"x":-1.5588,"y":-0.0862},{"x":-1.5601,"y":-0.0941},{"x":-1.5566,"y":-0.0801},{"x":-1.5558,"y":-0.0887},{"x":-1.5571,"y":-0.0962},
{"x":-1.5536,"y":-0.0826},{"x":-1.5528,"y":-0.0912},{"x":-1.5541,"y":-0.0983},{"x":-1.5506,"y":-0.0851},{"x":-1.5498,"y":-0.0935},{"x":-1.5476,"y":-0.0874},{"x":-1.5468,"y":-0.0958},
{"x":-1.5446,"y":-0.0898},{"x":-1.5438,"y":-0.0976},{"x":-1.5416,"y":-0.0921},{"x":-1.5386,"y":-0.0952},{"x":-1.5356,"y":-0.0975},{"x":-1.5326,"y":-0.0991},{"x":-1.5296,"y":-0.0989},{"x":-1.5266,"y":-0.0992},
{"x":-1.5912,"y":0.0042},{"x":-1.5905,"y":-0.0041},{"x":-1.5896,"y":0.0087},{"x":-1.5889,"y":-0.0002},{"x":-1.5881,"y":0.0121},{"x":-1.5876,"y":0.0038},{"x":-1.5868,"y":-0.0049},{"x":-1.5862,"y":0.0162},{"x":-1.5853,"y":0.0079},{"x":-1.5847,"y":-0.0008},{"x":-1.5836,"y":0.0203},{"x":-1.5828,"y":0.0114},{"x":-1.5821,"y":0.0027},{"x":-1.5815,"y":-0.0087},{"x":-1.5809,"y":-0.0189},{"x":-1.5802,"y":0.0271},{"x":-1.5796,"y":0.0176},{"x":-1.5788,"y":0.0068},{"x":-1.5781,"y":-0.0046},{"x":-1.5775,"y":-0.0152},{"x":-1.5769,"y":-0.0258},{"x":-1.5772,"y":0.0312},{"x":-1.5763,"y":0.0221},{"x":-1.5755,"y":0.0113},{"x":-1.5748,"y":-0.0001},{"x":-1.5741,"y":-0.0109},{"x":-1.5736,"y":-0.0214},{"x":-1.5729,"y":-0.0318},{"x":-1.5742,"y":0.0354},{"x":-1.5733,"y":0.0263},{"x":-1.5724,"y":0.0161},{"x":-1.5716,"y":0.0062},{"x":-1.5709,"y":-0.0052},{"x":-1.5701,"y":-0.0161},{"x":-1.5712,"y":0.0389},{"x":-1.5703,"y":0.0287},{"x":-1.5694,"y":0.0183},{"x":-1.5686,"y":-0.0223},
{"x":-1.5705,"y":0.041},{"x":-1.5672,"y":0.045},{"x":-1.5664,"y":0.036},{"x":-1.5651,"y":0.028},{"x":-1.5632,"y":0.050},{"x":-1.5621,"y":0.041},{"x":-1.5588,"y":0.056},{"x":-1.5576,"y":0.047},{"x":-1.5542,"y":0.061},{"x":-1.5531,"y":0.052},{"x":-1.5497,"y":0.071},{"x":-1.5486,"y":0.061},{"x":-1.5453,"y":0.074},{"x":-1.5441,"y":0.065},{"x":-1.5407,"y":0.077},{"x":-1.5396,"y":0.068},{"x":-1.5361,"y":0.081},{"x":-1.5349,"y":0.072},{"x":-1.5314,"y":0.085},{"x":-1.5303,"y":0.076},{"x":-1.5268,"y":0.088},{"x":-1.5257,"y":0.079},
{"x":-1.5702,"y":-0.043},{"x":-1.5668,"y":-0.047},{"x":-1.5659,"y":-0.038},{"x":-1.5628,"y":-0.052},{"x":-1.5617,"y":-0.043},{"x":-1.5584,"y":-0.058},{"x":-1.5572,"y":-0.049},{"x":-1.5538,"y":-0.063},{"x":-1.5526,"y":-0.054},{"x":-1.5493,"y":-0.069},{"x":-1.5482,"y":-0.060},{"x":-1.5449,"y":-0.073},{"x":-1.5437,"y":-0.064},{"x":-1.5403,"y":-0.076},{"x":-1.5391,"y":-0.067},{"x":-1.5357,"y":-0.080},{"x":-1.5345,"y":-0.071},{"x":-1.5310,"y":-0.084},{"x":-1.5299,"y":-0.075},{"x":-1.5264,"y":-0.087},{"x":-1.5253,"y":-0.078}
]
},
"resolve": {"axis": {"x": "independent", "y": "independent"}},
"layer": [
{"data": {"name": "lobes"},
 "mark": {"type": "line", "fill": "#ff00ff", "stroke": "#ff00ff", "strokeWidth": 0.5, "interpolate": "catmull-rom", "clip": true},
 "encoding": {
  "x": {"field": "x", "type": "quantitative", "scale": {"domain": [-1.595, -1.5235], "nice": false, "zero": false},
    "axis": {"orient": "bottom", "values": [-1.59, -1.58, -1.57, -1.56, -1.55, -1.54, -1.53], "labelExpr": "replace(format(datum.value, '.2f'), '\u2212', '-')", "labelPadding": 14, "title": "X", "titleFontSize": 31, "titleBaseline": "alphabetic", "titleY": 61}},
  "y": {"field": "y", "type": "quantitative", "scale": {"domain": [-0.0996, 0.102], "nice": false, "zero": false},
    "axis": {"orient": "left", "values": [-0.08, -0.06, -0.04, -0.02, 0, 0.02, 0.04, 0.06, 0.08, 0.1], "labelExpr": "replace(format(datum.value, '.2~f'), '\u2212', '-')", "labelPadding": 10, "title": "P", "titleFontSize": 34, "titleAngle": 270, "titleBaseline": "alphabetic", "titleAlign": "center", "titleX": -80, "titleY": 437}},
  "detail": {"field": "lobe"},
  "order": {"value": null}}},
{"data": {"name": "streaks"},
 "mark": {"type": "line", "color": "black", "strokeWidth": 1.3, "interpolate": "catmull-rom", "clip": true},
 "encoding": {
  "x": {"field": "x", "type": "quantitative", "axis": null},
  "y": {"field": "y", "type": "quantitative", "axis": null},
  "strokeDash": {"field": "a", "type": "nominal", "scale": {"range": [[1.3, 13, 1.3, 7, 1.3, 19, 1.3, 10], [1.3, 9, 1.3, 16, 1.3, 6, 1.3, 12], [1.3, 17, 1.3, 8, 1.3, 11], [1.3, 6, 1.3, 14, 1.3, 21, 1.3, 9], [1.3, 11, 1.3, 15, 1.3, 7]]}, "legend": null},
  "order": {"value": null}}},
{"data": {"name": "sea"},
 "mark": {"type": "circle", "size": 4, "color": "black", "opacity": 1, "clip": true},
 "encoding": {
  "x": {"field": "x", "type": "quantitative", "axis": null},
  "y": {"field": "y", "type": "quantitative", "axis": null}}},
{"data": {"name": "tori"},
 "mark": {"type": "line", "color": "black", "strokeWidth": 1.2, "strokeDash": [1.2, 3.5], "interpolate": "catmull-rom", "clip": true},
 "encoding": {
  "x": {"field": "x", "type": "quantitative", "axis": null},
  "y": {"field": "y", "type": "quantitative", "axis": {"orient": "left", "labels": false, "ticks": false, "domain": false, "title": "X", "titleFontSize": 22, "titleAngle": 270, "titleBaseline": "alphabetic", "titleAlign": "center", "titleX": -62, "titleY": 412}},
  "detail": {"field": "t"},
  "order": {"value": null}}},
{"data": {"name": "unstable"},
 "mark": {"type": "line", "strokeWidth": 1.1, "interpolate": "catmull-rom", "clip": true},
 "encoding": {
  "x": {"field": "x", "type": "quantitative", "axis": null},
  "y": {"field": "y", "type": "quantitative", "axis": null},
  "color": {"datum": "Unstable Manifold", "type": "nominal", "scale": {"domain": ["Resonance Boundary", "Lobes", "Unstable Manifold", "Stable Manifold"], "range": ["black", "#ff00ff", "#dd0000", "#00cc00"]},
    "legend": {"orient": "none", "legendX": 12, "legendY": 14, "title": null, "direction": "vertical", "strokeColor": "black", "fillColor": "white", "padding": 5, "labelFont": "Liberation Sans", "labelFontSize": 22.5, "labelFontWeight": "bold", "labelColor": "black", "labelLimit": 400, "symbolSize": 3000, "symbolOffset": 5, "clipHeight": 23.5, "rowPadding": 3, "labelOffset": 28, "symbolType": "stroke",
      "encode": {"symbols": {"update": {
        "shape": {"signal": "datum.value === 'Lobes' ? 'M-1,-0.45L1,-0.45L1,0.45L-1,0.45Z' : 'stroke'"},
        "fill": {"signal": "datum.value === 'Lobes' ? '#ff00ff' : 'transparent'"},
        "stroke": {"signal": "datum.value === 'Lobes' ? '#3a003a' : datum.value === 'Resonance Boundary' ? 'black' : datum.value === 'Unstable Manifold' ? '#ff0000' : '#00dd00'"},
        "strokeWidth": {"signal": "datum.value === 'Resonance Boundary' ? 5 : 1.3"},
        "opacity": {"value": 1}}}}}},
  "detail": {"field": "seg"},
  "order": {"value": null}}},
{"data": {"name": "stable"},
 "mark": {"type": "line", "strokeWidth": 1.1, "interpolate": "catmull-rom", "clip": true},
 "encoding": {
  "x": {"field": "x", "type": "quantitative", "axis": null},
  "y": {"field": "y", "type": "quantitative", "axis": null},
  "color": {"datum": "Stable Manifold", "type": "nominal"},
  "detail": {"field": "seg"},
  "order": {"value": null}}},
{"data": {"name": "boundary"},
 "mark": {"type": "line", "strokeWidth": 6, "strokeJoin": "round", "strokeCap": "round", "interpolate": "catmull-rom", "clip": true},
 "encoding": {
  "x": {"field": "x", "type": "quantitative", "axis": null},
  "y": {"field": "y", "type": "quantitative", "axis": null},
  "color": {"datum": "Resonance Boundary", "type": "nominal"},
  "order": {"value": null}}},
{"data": {"name": "xticks"},
 "mark": {"type": "tick", "orient": "vertical", "size": 18, "thickness": 1.2, "color": "black", "opacity": 1, "clip": true},
 "encoding": {
  "x": {"field": "v", "type": "quantitative", "axis": null},
  "y": {"datum": -0.0996, "axis": null}}},
{"data": {"name": "xticks"},
 "mark": {"type": "tick", "orient": "vertical", "size": 18, "thickness": 1.2, "color": "black", "opacity": 1, "clip": true},
 "encoding": {
  "x": {"field": "v", "type": "quantitative", "axis": null},
  "y": {"datum": 0.102, "axis": null}}},
{"data": {"name": "yticks"},
 "mark": {"type": "tick", "orient": "horizontal", "size": 18, "thickness": 1.2, "color": "black", "opacity": 1, "clip": true},
 "encoding": {
  "y": {"field": "v", "type": "quantitative", "axis": null},
  "x": {"datum": -1.595, "axis": null}}},
{"data": {"name": "yticks"},
 "mark": {"type": "tick", "orient": "horizontal", "size": 18, "thickness": 1.2, "color": "black", "opacity": 1, "clip": true},
 "encoding": {
  "y": {"field": "v", "type": "quantitative", "axis": null},
  "x": {"datum": -1.5235, "axis": null}}}
]
}
